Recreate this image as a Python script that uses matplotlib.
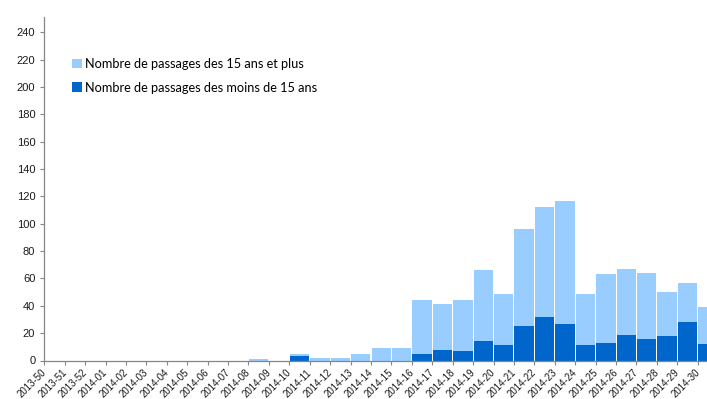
import matplotlib
matplotlib.use("Agg")
import matplotlib.pyplot as plt
from matplotlib.patches import Patch
from matplotlib.transforms import ScaledTranslation
import numpy as np

# Weekly ER visits: under-15s and 15-and-over
weeks = ["2013-50", "2013-51", "2013-52"] + [f"2014-{k:02d}" for k in range(1, 31)]
moins_15 = [0, 0, 0, 0, 0, 0, 0, 0, 0, 0,
            0, 0, 3, 0, 0, 0, 0, 0,
            5, 8, 7, 14, 11, 25, 32, 27, 11, 13, 19, 16, 18, 28, 12]
total = [0, 0, 0, 0, 0, 0, 0, 0, 0, 0,
         1, 0, 5, 2, 2, 5, 9, 9,
         44, 41, 44, 66, 49, 96, 112, 117, 49, 63, 67, 64, 50, 57, 39]
plus_15 = [t - m for t, m in zip(total, moins_15)]

label_plus = "Nombre de passages des 15 ans et plus"
label_moins = "Nombre de passages des moins de 15 ans"
yticks = list(range(0, 241, 20))

light = "#99CCFF"
dark = "#0066CC"
axis_grey = "#868686"

W, H, DPI = 707, 399, 100
fig = plt.figure(figsize=(W / DPI, H / DPI), dpi=DPI)
x0, y0 = 44.3, 360.5
ax = fig.add_axes([x0 / W, (H - y0) / H, 1 - x0 / W, (y0 - 17) / H])

x = np.arange(len(weeks))
bw = 0.95
ax.bar(x + (1 - bw) / 2, moins_15, width=bw, align="edge", color=dark, linewidth=0, zorder=2)
ax.bar(x + (1 - bw) / 2, plus_15, bottom=moins_15, width=bw, align="edge", color=light,
       linewidth=0, zorder=2)

ax.set_xlim(0, 32.455)
ax.set_ylim(0, 251.3)

for s in ("top", "right"):
    ax.spines[s].set_visible(False)
for s in ("left", "bottom"):
    ax.spines[s].set_color(axis_grey)
    ax.spines[s].set_linewidth(0.9)
    ax.spines[s].set_zorder(3)

ax.set_yticks(yticks)
ax.set_xticks(x)
ax.set_xticklabels(weeks, rotation=45, ha="right", va="top")
ax.tick_params(axis="both", direction="out", length=3, width=0.8, color=axis_grey,
               labelcolor="#1a1a1a")
ax.tick_params(axis="y", labelsize=8, pad=3.5)
ax.tick_params(axis="x", labelsize=7, pad=2)
for lab in ax.get_xticklabels() + ax.get_yticklabels():
    lab.set_family("Liberation Sans")
shift = ScaledTranslation(4 / DPI, 0, fig.dpi_scale_trans)
for lab in ax.get_xticklabels():
    lab.set_transform(lab.get_transform() + shift)

handles = [Patch(facecolor=light, edgecolor="none", label=label_plus),
           Patch(facecolor=dark, edgecolor="none", label=label_moins)]
fig.legend(handles=handles, loc="upper left", bbox_to_anchor=(72 / W, 1 - 58 / H),
           frameon=False, prop={"family": "Lato", "size": 9.2},
           handlelength=0.75, handleheight=0.75, handletextpad=0.3,
           labelspacing=0.9, borderpad=0, borderaxespad=0)

fig.savefig("out.png", dpi=DPI)
